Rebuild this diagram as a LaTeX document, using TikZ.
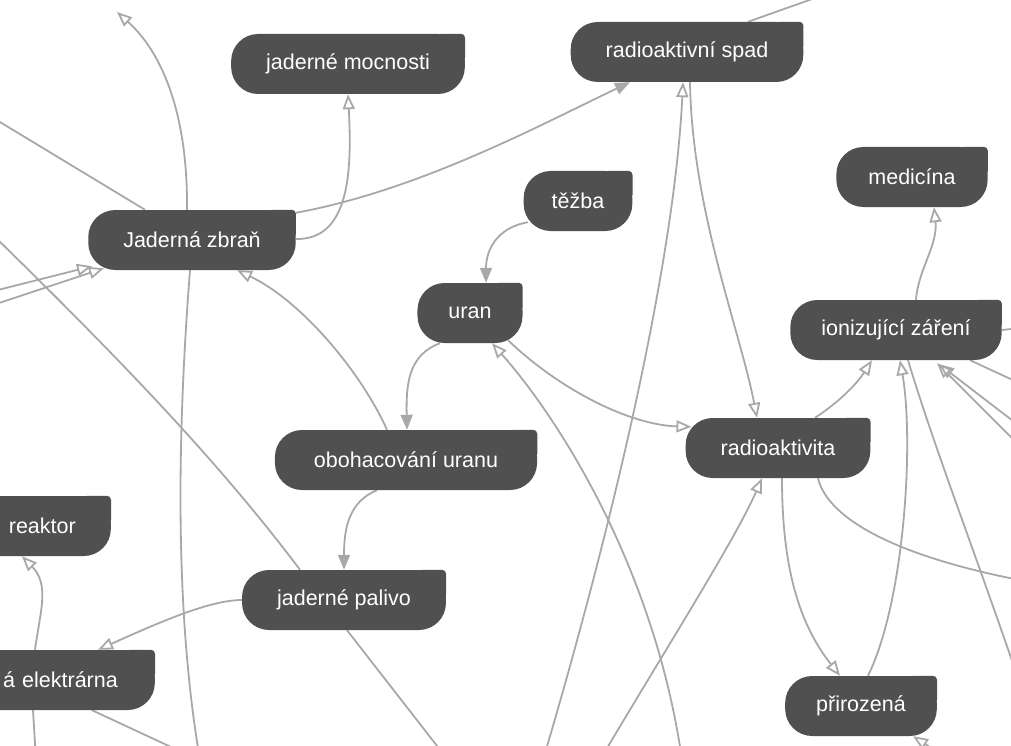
\documentclass[tikz,border=0pt]{standalone}
\usepackage{fontspec}
\setmainfont{Liberation Sans}
\usepackage{xcolor}
\usetikzlibrary{arrows.meta,backgrounds}
\definecolor{boxgray}{RGB}{80,80,80}
\definecolor{linkgray}{RGB}{168,168,168}
\begin{document}
\begin{tikzpicture}[x=1pt, y=-1pt,
    concept/.style={fill=boxgray, text=white, rounded corners=27pt, minimum height=60pt,
        inner xsep=35pt, font=\fontsize{21.5}{26}\selectfont},
    link/.style={draw=linkgray, line width=1.8pt},
    openhead/.style={-{Triangle[open, length=15pt, width=12pt]}},
    fullhead/.style={-{Triangle[length=15pt, width=12pt]}}]
        \useasboundingbox (0,0) rectangle (1011,746);
        \node (mocnosti) at (348,64) [concept]{jaderné mocnosti};
        \node (spad) at (687,52) [concept]{radioaktivní spad};
        \node (zbran) at (192,240) [concept]{Jaderná zbraň};
        \node (tezba) at (578,201) [concept, inner xsep=28pt]{těžba};
        \node (uran) at (470,313) [concept, inner xsep=31pt]{uran};
        \node (medicina) at (912,177) [concept, inner xsep=32pt]{medicína};
        \node (ionizace) at (896,330) [concept, inner xsep=31pt]{ionizující záření};
        \node (aktivita) at (778,448) [concept]{radioaktivita};
        \node (obohaceni) at (406,460) [concept, inner xsep=39pt]{obohacování uranu};
        \node (reaktor) at (111,526) [concept, anchor=east, text width=140pt, align=right]{reaktor};
        \node (elektrarna) at (155,680) [concept, anchor=east, inner xsep=37pt, text width=140pt, align=right]{á elektrárna};
        \node (palivo) at (344,600) [concept]{jaderné palivo};
        \node (prirozena) at (861,706) [concept, inner xsep=31pt]{přirozená};
        \foreach \n in {mocnosti,spad,zbran,tezba,uran,medicina,ionizace,aktivita,obohaceni,reaktor,elektrarna,palivo,prirozena}
            \fill[boxgray, rounded corners=4pt] (\n.north east) -- ++(0,28) -- ++(-28,0) -- ++(0,-28) -- cycle;
        \coordinate (w1) at (-10,116);
        \coordinate (w2) at (-10,292);
        \coordinate (w3) at (-10,306);
        \coordinate (w4) at (-10,232);
        \coordinate (nw) at (117,12);
        \coordinate (n1) at (815,-2);
        \coordinate (s1) at (200,760);
        \coordinate (s2) at (36,760);
        \coordinate (s3) at (199,760);
        \coordinate (s4) at (448,760);
        \coordinate (s5) at (543,760);
        \coordinate (s6) at (682,760);
        \coordinate (s7) at (600,760);
        \coordinate (e1) at (1030,456);
        \coordinate (e2) at (1030,434);
        \coordinate (e3) at (1022,690);
        \coordinate (e4) at (1030,388);
        \coordinate (e5) at (1030,327);
        \coordinate (e6) at (1030,582);
        \coordinate (e7) at (950,760);
        \begin{scope}[on background layer]
        \draw[link, fullhead] ([yshift=-3pt]zbran.north east) .. controls (420,190) and (540,125) .. ([xshift=-57pt]spad.south);
        \draw[link, openhead] ([yshift=1pt]zbran.east) .. controls (350,240) and (352,170) .. (mocnosti.south);
        \draw[link] ([xshift=-47pt]zbran.north) -- (w1);
        \draw[link, openhead] ([xshift=-5pt]zbran.north) .. controls (188,120) and (165,55) .. (nw);
        \draw[link] ([xshift=-2pt]zbran.south) .. controls (176,450) and (176,620) .. (s1);
        \draw[link, openhead] (w2) -- ([xshift=-100pt,yshift=4pt]zbran.south);
        \draw[link, openhead] (w3) -- ([xshift=-88pt,yshift=2pt]zbran.south);
        \draw[link, openhead] ([xshift=-19pt]obohaceni.north) .. controls (360,370) and (300,300) .. ([xshift=45pt]zbran.south);
        \draw[link, fullhead] ([xshift=-30pt]uran.south) .. controls (408,355) and (406,385) .. ([xshift=1pt]obohaceni.north);
        \draw[link, fullhead] ([xshift=-29pt]obohaceni.south) .. controls (348,502) and (344,530) .. (palivo.north);
        \draw[link] ([xshift=-44pt]palivo.north) .. controls (210,450) and (100,340) .. (w4);
        \draw[link, openhead] (palivo.west) .. controls (210,600) and (160,622) .. ([xshift=-57pt]elektrarna.north east);
        \draw[link, openhead] ([xshift=-120pt]elektrarna.north east) .. controls (40,612) and (50,585) .. ([xshift=-89pt]reaktor.south east);
        \draw[link] ([xshift=-122pt]elektrarna.south east) -- (s2);
        \draw[link] ([xshift=-63pt]elektrarna.south east) -- (s3);
        \draw[link] ([xshift=3pt]palivo.south) -- (s4);
        \draw[link, openhead] (s5) .. controls (620,500) and (675,250) .. ([xshift=-4pt]spad.south);
        \draw[link, openhead] ([xshift=3pt]spad.south) .. controls (692,210) and (740,330) .. ([xshift=-21pt]aktivita.north);
        \draw[link] ([xshift=61pt]spad.north) -- (n1);
        \draw[link, fullhead] ([xshift=-50pt,yshift=9pt]tezba.south) .. controls (495,228) and (486,252) .. ([xshift=16pt]uran.north);
        \draw[link, openhead] ([xshift=38pt,yshift=3pt]uran.south) .. controls (560,390) and (630,425) .. ([xshift=6pt,yshift=-9pt]aktivita.north west);
        \draw[link, openhead] (s6) .. controls (655,570) and (560,420) .. ([xshift=22pt]uran.south);
        \draw[link, openhead] (s7) .. controls (665,650) and (735,540) .. ([xshift=-16pt]aktivita.south);
        \draw[link, openhead] ([xshift=4pt]aktivita.south) .. controls (782,570) and (800,625) .. ([xshift=-21pt]prirozena.north);
        \draw[link, openhead] ([xshift=7pt]prirozena.north) .. controls (905,600) and (914,440) .. ([xshift=4pt]ionizace.south);
        \draw[link, openhead] ([xshift=37pt]aktivita.north) .. controls (842,400) and (858,382) .. ([xshift=-24pt]ionizace.south);
        \draw[link, openhead] ([xshift=20pt]ionizace.north) .. controls (918,270) and (938,245) .. ([xshift=22pt]medicina.south);
        \draw[link, openhead] (e1) -- ([xshift=41pt,yshift=-3pt]ionizace.south);
        \draw[link, openhead] (e2) -- ([xshift=43pt,yshift=-4pt]ionizace.south);
        \draw[link] ([xshift=12pt]ionizace.south) .. controls (935,450) and (978,560) .. (e3);
        \draw[link] ([xshift=74pt]ionizace.south) -- (e4);
        \draw[link] (ionizace.east) -- (e5);
        \draw[link] ([xshift=40pt]aktivita.south) .. controls (828,520) and (900,558) .. (e6);
        \draw[link, openhead] (e7) -- ([xshift=52pt]prirozena.south);
        \end{scope}
    \end{tikzpicture}
\end{document}
